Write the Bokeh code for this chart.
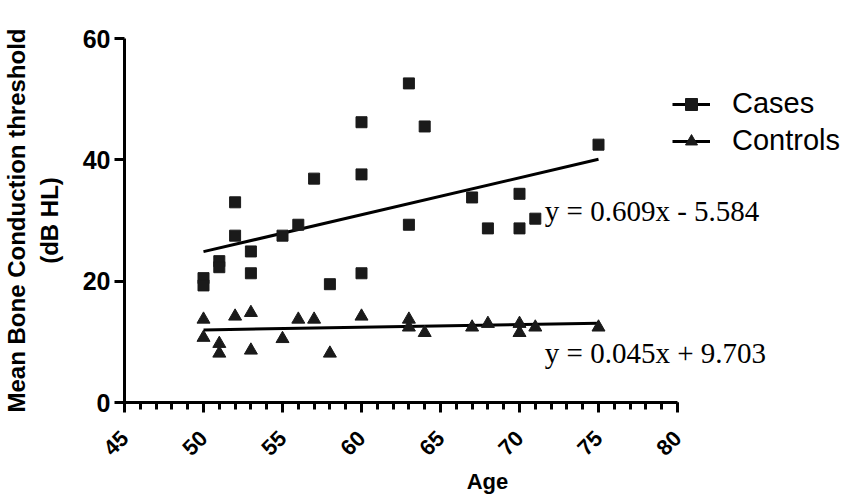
from bokeh.plotting import figure
from bokeh.models import Range1d, FixedTicker, Legend, LegendItem
from bokeh.core.properties import value
from bokeh.embed import file_html
from bokeh.resources import INLINE
import math

# ---- data ----
cases_age = [50, 50, 51, 51, 52, 52, 53, 53, 55, 56, 57, 58, 60, 60, 60, 63, 63, 64, 67, 68, 70, 70, 71, 75]
cases_bc = [20.5, 19.3, 23.3, 22.3, 33.0, 27.5, 24.9, 21.3, 27.5, 29.3, 36.9, 19.5, 46.2, 37.6, 21.3,
            52.6, 29.3, 45.5, 33.8, 28.7, 34.4, 28.7, 30.3, 42.5]
controls_age = [50, 50, 51, 51, 52, 53, 53, 55, 56, 57, 58, 60, 63, 63, 64, 67, 68, 70, 70, 71, 75]
controls_bc = [13.7, 10.7, 9.7, 8.1, 14.2, 14.8, 8.6, 10.5, 13.7, 13.7, 8.1, 14.2, 13.7, 12.4, 11.5,
               12.4, 13.0, 13.0, 11.5, 12.4, 12.4]
cases_fit = (0.609, -5.584)
controls_fit = (0.045, 9.703)
fit_span = [50, 75]
cases_eq = "y = 0.609x - 5.584"
controls_eq = "y = 0.045x + 9.703"
x_ticks = [45, 50, 55, 60, 65, 70, 75, 80]
y_ticks = [0, 20, 40, 60]

# ---- figure ----
W, H = 850, 504
left, right, top, bottom = 124, 0, 38, 102
px_per_unit = (677 - 124) / 35.0
frame_w = W - left - right
p = figure(width=W, height=H, output_backend="svg", toolbar_location=None,
           x_range=Range1d(45, 45 + frame_w / px_per_unit), y_range=Range1d(0, 60),
           min_border_left=left, min_border_right=right, min_border_top=top, min_border_bottom=bottom)
p.outline_line_color = None
p.xgrid.visible = False
p.ygrid.visible = False
p.background_fill_color = "white"
p.border_fill_color = "white"

ax = p.xaxis[0]
ax.bounds = (45, 80)
ax.ticker = FixedTicker(ticks=x_ticks, minor_ticks=list(range(45, 81)))
ay = p.yaxis[0]
ay.ticker = FixedTicker(ticks=y_ticks)
for a in (ax, ay):
    a.axis_line_width = 3
    a.axis_line_color = "black"
    a.major_tick_line_width = 3
    a.major_tick_line_color = "black"
    a.minor_tick_line_width = 3
    a.minor_tick_line_color = "black"
    a.major_tick_out = 10
    a.major_tick_in = 0
    a.major_label_text_font = "Liberation Sans"
    a.major_label_text_font_style = "bold"
    a.major_label_text_color = "black"
    a.axis_label_text_font = "Liberation Sans"
    a.axis_label_text_font_style = "bold"
    a.axis_label_text_color = "black"
ay.major_label_text_font_size = "25px"
ax.major_label_text_font_size = "22px"
ay.axis_label_text_font_size = "24px"
ax.axis_label_text_font_size = "22px"
ax.minor_tick_out = 7
ax.minor_tick_in = 0
ay.minor_tick_out = 0
ay.minor_tick_in = 0
ax.major_label_orientation = math.pi / 4
ax.axis_label = "Age"
ax.axis_label_standoff = 4
ay.axis_label = "Mean Bone Conduction threshold\n(dB HL)"
ay.axis_label_standoff = 17
ay.major_label_standoff = 4
ax.major_label_standoff = 22

# regression lines
cases_line_y = [cases_fit[0] * x + cases_fit[1] for x in fit_span]
controls_line_y = [controls_fit[0] * x + controls_fit[1] for x in fit_span]
l1 = p.line(fit_span, cases_line_y, line_width=3, line_color="black")
l2 = p.line(fit_span, controls_line_y, line_width=3, line_color="black")

s1 = p.scatter(cases_age, cases_bc, marker="square", size=11, fill_color="#1a1a1a", line_color="#1a1a1a")
s2 = p.scatter(controls_age, controls_bc, marker="triangle", size=13, fill_color="#1a1a1a", line_color="#1a1a1a")

p.text(x=[71.6], y=[31.6], text=[cases_eq], text_font=value("Liberation Serif"),
       text_font_size=value("29px"), text_align="left", text_baseline="middle", text_color="black")
p.text(x=[71.6], y=[8.2], text=[controls_eq], text_font=value("Liberation Serif"),
       text_font_size=value("29px"), text_align="left", text_baseline="middle", text_color="black")

legend = Legend(items=[LegendItem(label="Cases", renderers=[l1, s1]),
                       LegendItem(label="Controls", renderers=[l2, s2])],
                location=(548, 245))
legend.background_fill_alpha = 0
legend.border_line_color = None
legend.glyph_width = 38
legend.glyph_height = 30
legend.label_height = 30
legend.spacing = 4
legend.padding = 0
legend.margin = 0
legend.label_standoff = 22
legend.label_text_font = "Liberation Sans"
legend.label_text_font_size = "29px"
legend.label_text_color = "black"
p.add_layout(legend, "center")

open("out.html", "w").write(file_html(p, INLINE))
